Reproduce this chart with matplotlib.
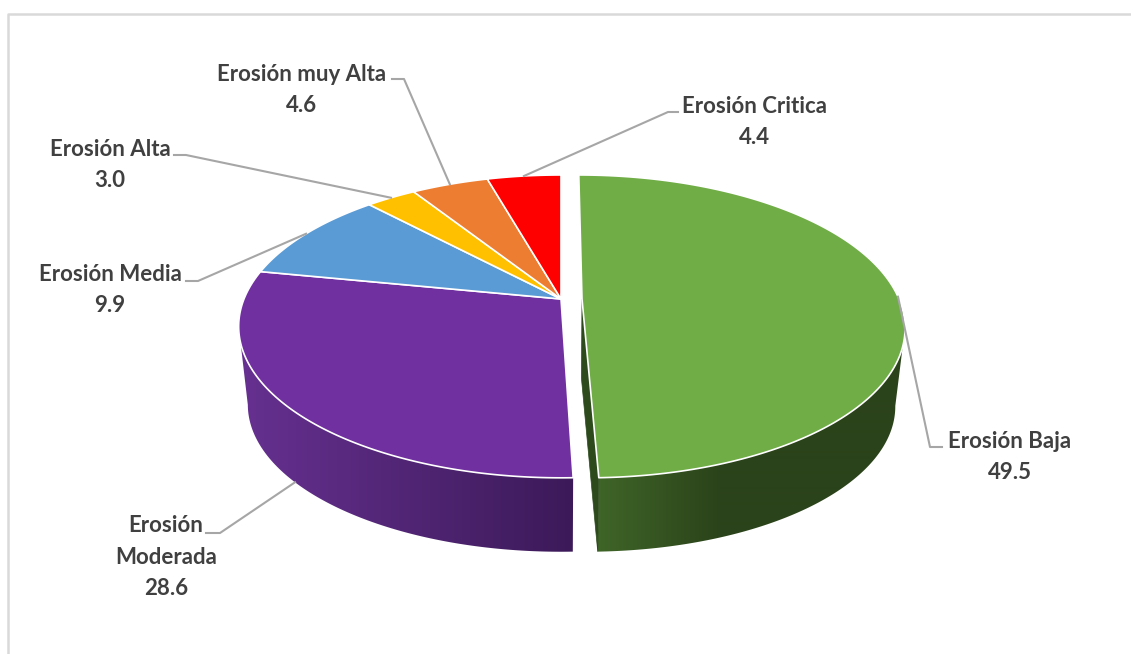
""" Exploded 3D style pie of erosion classes, drawn with polygons """

import numpy as np
from matplotlib import pyplot as plt
from matplotlib.colors import to_rgb
from matplotlib.patches import Polygon

# Data
labels = ["Erosión Baja", "Erosión\nModerada", "Erosión Media", "Erosión Alta", "Erosión muy Alta", "Erosión Critica"]
values = [49.5, 28.6, 9.9, 3.0, 4.6, 4.4]
colors = ["#70AD47", "#7030A0", "#5B9BD5", "#FFC000", "#ED7D31", "#FF0000"]

# Layout, all in pixels of the picture
W, H = 1131, 654
CX = 561
CY_TOP, CY_BOT = 299, 378
R_TOP, R_BOT = 317, 308
SQUASH = 0.462
PERSP = 0.181
explode = [21, 0, 0, 0, 0, 0]
label_xy = [(1010, 457), (166, 557), (110, 290), (110, 165), (302, 90), (755, 122)]
elbows = [[(930, 447), (942, 447)], [(220, 533), (206, 533)], [(198, 281), (186, 281)],
          [(186, 155), (174, 155)], [(404, 79), (392, 79)], [(668, 112), (678, 112)]]
# side wall gradient: colour at left, colour at right, x range of the fade
side_shade = {0: ("#3F6528", "#2B431A", 597, 720), 1: ("#65308F", "#3C1A59", 248, 572)}
CUT_COLOR = "#2C4A1C"
TEXT_COLOR = "#404040"
LEADER_COLOR = "#A6A6A6"


def project(t, cy, r, off, radial=1.0):
    """ Angle clockwise from the top of the pie to picture coordinates """
    x = radial * np.sin(t)
    y = radial * np.cos(t)
    w = 1 + PERSP * y
    return CX + (r * x + off * r / R_TOP) / w, cy - r * SQUASH * y / w


fig = plt.figure(figsize=(W / 100, H / 100), dpi=100)
ax = fig.add_axes([0, 0, 1, 1])
ax.axis("off")

# Frame of the chart area
ax.plot([8, 8, W], [H, 14, 14], color="#D9D9D9", lw=1.8, zorder=1)

angles = 2 * np.pi * np.concatenate([[0], np.cumsum(values)]) / np.sum(values)

# Side walls first, the top faces cover what lies behind
for i, shade in side_shade.items():
    t = np.linspace(angles[i], angles[i + 1], 400)
    x1, y1 = project(t, CY_TOP, R_TOP, explode[i])
    x2, y2 = project(t, CY_BOT, R_BOT, explode[i])
    # keep only the front of the rim, up to the widest point of each edge
    k1 = np.argmax(np.abs(x1 - CX))
    k2 = np.argmax(np.abs(x2 - CX))
    if i == 0:
        rim = list(zip(x1[k1:], y1[k1:])) + list(zip(x2[k2:][::-1], y2[k2:][::-1]))
    else:
        rim = list(zip(x1[:k1 + 1], y1[:k1 + 1])) + list(zip(x2[:k2 + 1][::-1], y2[:k2 + 1][::-1]))
    wall = Polygon(rim, facecolor="none", edgecolor="none")
    ax.add_patch(wall)
    left, right = np.array(to_rgb(shade[0])), np.array(to_rgb(shade[1]))
    f = np.clip((np.arange(W) - shade[2]) / (shade[3] - shade[2]), 0, 1)
    band = (left + (right - left) * f[:, None])[None, :, :]
    im = ax.imshow(band, extent=[0, W, H, 0], aspect="auto", interpolation="bilinear", zorder=2)
    im.set_clip_path(wall)

# Cut face of the pulled out slice
xa, ya = project(angles[1], CY_TOP, R_TOP, explode[0])
xb, yb = project(angles[1], CY_BOT, R_BOT, explode[0])
xc, yc = project(angles[1], CY_TOP, R_TOP, explode[0], radial=0.0)
xd, yd = project(angles[1], CY_BOT, R_BOT, explode[0], radial=0.0)
ax.add_patch(Polygon([(xc, yc), (xa, ya), (xb, yb), (xd, yd)],
                     facecolor=CUT_COLOR, edgecolor=CUT_COLOR, lw=0.5, zorder=2))

# Top faces
for i in range(len(values)):
    t = np.linspace(angles[i], angles[i + 1], 200)
    x, y = project(t, CY_TOP, R_TOP, explode[i])
    x0, y0 = project(t[0], CY_TOP, R_TOP, explode[i], radial=0.0)
    pts = [(x0, y0)] + list(zip(x, y))
    ax.add_patch(Polygon(pts, facecolor=colors[i], edgecolor="white", lw=1.2, joinstyle="round", zorder=3))

# Leader lines and labels
for i in range(len(values)):
    mid = (angles[i] + angles[i + 1]) / 2
    if i == 1:
        px, py = project(mid, CY_BOT, R_BOT, explode[i])
    else:
        px, py = project(mid, CY_TOP, R_TOP, explode[i])
    xs = [px] + [p[0] for p in elbows[i]]
    ys = [py] + [p[1] for p in elbows[i]]
    ax.plot(xs, ys, color=LEADER_COLOR, lw=1.5, zorder=4, solid_joinstyle="round")
    ax.text(label_xy[i][0], label_xy[i][1], "%s\n%.1f" % (labels[i], values[i]),
            ha="center", va="center", family="Lato", fontweight="bold", fontsize=16,
            color=TEXT_COLOR, linespacing=1.6, zorder=5)

ax.set_xlim(0, W)
ax.set_ylim(H, 0)

plt.savefig("out.png", dpi=100)
